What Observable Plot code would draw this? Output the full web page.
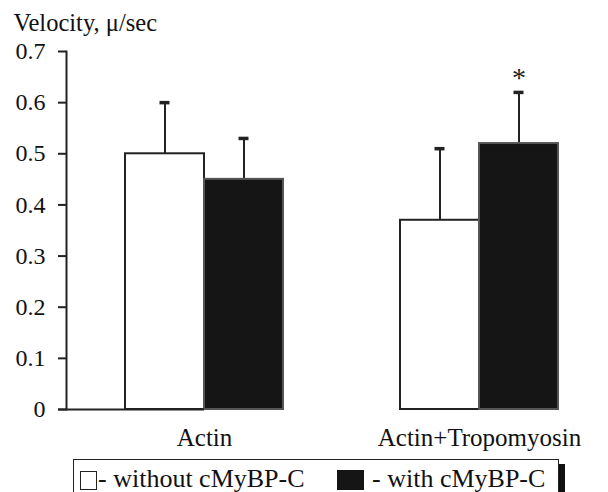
<!DOCTYPE html>
<html>
<head>
<meta charset="utf-8">
<script src="https://cdn.jsdelivr.net/npm/d3@7"></script>
<script src="https://cdn.jsdelivr.net/npm/@observablehq/plot@0.6"></script>
<style>
  html, body { margin: 0; padding: 0; background: #fff; }
  body { width: 608px; height: 492px; overflow: hidden; position: relative; font-family: 'Liberation Serif', Tinos, 'Times New Roman', 'DejaVu Serif', serif; color: #111; }
  #chart { position: absolute; left: 0; top: 0; }
  #chart svg, #chart svg text { font-family: 'Liberation Serif', Tinos, 'Times New Roman', 'DejaVu Serif', serif !important; }
  #legend { position: absolute; left: 73px; top: 459px; width: 484px; height: 40px; border: 1.5px solid #222; box-shadow: 6px 5px 0 #111; background: #fff; font-size: 26px; }
  #legend .item { position: absolute; top: 6px; white-space: nowrap; line-height: 26px; }
  #legend .sw { display: inline-block; vertical-align: -3px; }
</style>
</head>
<body>
<div id="chart"></div>
<div id="legend"></div>
<script>
const categories = ["Actin", "Actin+Tropomyosin"];
const seriesNames = ["without cMyBP-C", "with cMyBP-C"];
const withoutValues = [0.50, 0.37];
const withValues = [0.45, 0.52];
const withoutErrors = [0.10, 0.14];
const withErrors = [0.08, 0.10];
const significant = [false, true];
const yTicks = [0, 0.1, 0.2, 0.3, 0.4, 0.5, 0.6, 0.7];
const yTitle = "Velocity, \u03bc/sec";

// layout (pixels)
const W = 608, H = 455, frameLeft = 66, frameTop = 51, frameBottom = 409;
const c0 = 204, c1 = 479, barW = 79, capHalf = 5;
const unit = c1 - c0;
const half = barW / unit;
const serif = "'Liberation Serif', Tinos, 'Times New Roman', 'DejaVu Serif', serif";

const rows = [];
categories.forEach((c, i) => {
  rows.push({cat: c, i, series: seriesNames[0], value: withoutValues[i], err: withoutErrors[i], x1: i - half, x2: i, cx: i - half / 2, sig: false});
  rows.push({cat: c, i, series: seriesNames[1], value: withValues[i], err: withErrors[i], x1: i, x2: i + half, cx: i + half / 2, sig: significant[i]});
});

const plot = Plot.plot({
  width: W,
  height: H,
  marginLeft: frameLeft,
  marginRight: 0,
  marginTop: frameTop,
  marginBottom: H - frameBottom,
  style: {fontFamily: serif, fontSize: "24px", color: "#111", background: "#fff"},
  x: {domain: [(frameLeft - c0) / unit, (W - c0) / unit], label: null},
  y: {domain: [0, 0.7], label: null},
  marks: [
    Plot.axisY({ticks: yTicks, tickFormat: (d) => d === 0 ? "0" : d3.format(".1f")(d), tickSize: 8, tickPadding: 13, fontSize: 24, label: null, stroke: "#222", strokeWidth: 2}),
    Plot.axisX({ticks: [0, 1], tickFormat: (d) => categories[d], tickSize: 0, tickPadding: 19, fontSize: 25, label: null}),
    Plot.ruleX(rows, {x: "cx", y1: "value", y2: (d) => d.value + d.err, stroke: "#222", strokeWidth: 2}),
    Plot.ruleY(rows, {y: (d) => d.value + d.err, x1: (d) => d.cx - capHalf / unit, x2: (d) => d.cx + capHalf / unit, stroke: "#222", strokeWidth: 3.5}),
    Plot.rectY(rows, {x1: "x1", x2: "x2", y1: 0, y2: "value", fill: (d) => d.series === seriesNames[0] ? "#fff" : "#151515", stroke: (d) => d.series === seriesNames[0] ? "#222" : "#555", strokeWidth: 2}),
    Plot.text(rows.filter((d) => d.sig), {x: "cx", y: (d) => d.value + d.err, text: () => "*", dy: -14, fontSize: 28, fill: "#222"}),
    Plot.frame({anchor: "left", stroke: "#222", strokeWidth: 2}),
    Plot.ruleY([0], {x1: (frameLeft - 8 - c0) / unit, stroke: "#222", strokeWidth: 2, clip: false}),
    Plot.text([yTitle], {frameAnchor: "top-left", dx: -53, dy: -38, text: (d) => d, fontSize: 24.5, textAnchor: "start", fill: "#111"})
  ]
});
document.getElementById("chart").appendChild(plot);

// legend
const legend = document.getElementById("legend");
const items = [
  {name: seriesNames[0], left: 6, sw: "width:15px;height:17px;border:1.5px solid #222;background:#fff;margin-right:1px;"},
  {name: seriesNames[1], left: 263, sw: "width:27px;height:20px;background:#151515;margin-right:8px;"}
];
items.forEach((it) => {
  const el = document.createElement("div");
  el.className = "item";
  el.style.left = it.left + "px";
  el.innerHTML = `<span class="sw" style="${it.sw}"></span>- ${it.name}`;
  legend.appendChild(el);
});
</script>
</body>
</html>
